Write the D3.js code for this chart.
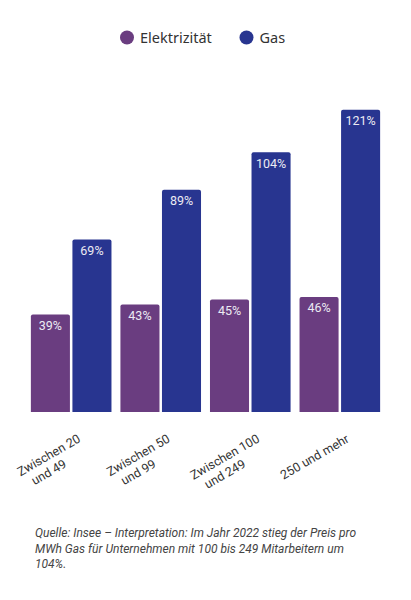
<!DOCTYPE html>
<html>
<head>
<meta charset="utf-8">
<script src="https://cdn.jsdelivr.net/npm/d3@7"></script>
<style>
  body { margin: 0; background: #fff; }
  svg { display: block; }
</style>
</head>
<body>
<script>
var categories = [["Zwischen 20", "und 49"], ["Zwischen 50", "und 99"], ["Zwischen 100", "und 249"], ["250 und mehr"]];
var seriesNames = ["Elektrizität", "Gas"];
var elecValues = [39, 43, 45, 46];
var gasValues = [69, 89, 104, 121];
var noteLines = [
    "Quelle: Insee – Interpretation: Im Jahr 2022 stieg der Preis pro",
    "MWh Gas für Unternehmen mit 100 bis 249 Mitarbeitern um",
    "104%."
];

var width = 411;
var height = 600;
var colors = ["#6a3d80", "#283590"];
var baseY = 412;

var svg = d3.select("body").append("svg")
    .attr("width", width)
    .attr("height", height);

var x0 = d3.scaleBand()
    .domain(d3.range(categories.length))
    .range([25.5, 385.5])
    .paddingInner(0.1)
    .paddingOuter(0.06);

var x1 = d3.scaleBand()
    .domain([0, 1])
    .range([0, x0.bandwidth()])
    .paddingInner(0.06);

var y = d3.scaleLinear()
    .domain([0, 121])
    .range([baseY, 109.7]);

// legend
var legend = svg.append("g").attr("class", "legend");
var legendPos = [127, 246.5];
seriesNames.forEach(function(name, i) {
    var g = legend.append("g").attr("transform", "translate(" + legendPos[i] + ",37.5)");
    g.append("circle").attr("r", 7).attr("fill", colors[i]);
    g.append("text")
        .attr("x", 13)
        .attr("dy", "0.35em")
        .attr("font-family", "Noto Sans")
        .attr("font-size", 14.5)
        .attr("fill", "#333")
        .text(name);
});

var rows = categories.map(function(c, i) {
    return [elecValues[i], gasValues[i]];
});

var groups = svg.selectAll("g.group")
    .data(rows)
    .enter()
    .append("g")
    .attr("class", "group")
    .attr("transform", function(d, i) { return "translate(" + x0(i) + ",0)"; });

var bars = groups.selectAll("g.bar")
    .data(function(d) { return d.map(function(v, j) { return {v: v, s: j}; }); })
    .enter()
    .append("g")
    .attr("class", "bar");

bars.append("path")
    .attr("fill", function(d) { return colors[d.s]; })
    .attr("d", function(d) {
        var bx = x1(d.s), bw = x1.bandwidth(), top = y(d.v), r = 2;
        return "M" + bx + "," + baseY +
            "V" + (top + r) +
            "Q" + bx + "," + top + " " + (bx + r) + "," + top +
            "H" + (bx + bw - r) +
            "Q" + (bx + bw) + "," + top + " " + (bx + bw) + "," + (top + r) +
            "V" + baseY + "Z";
    });

bars.append("text")
    .attr("x", function(d) { return x1(d.s) + x1.bandwidth() / 2; })
    .attr("y", function(d) { return y(d.v) + 11; })
    .attr("dy", "0.35em")
    .attr("text-anchor", "middle")
    .attr("font-family", "Roboto")
    .attr("font-size", 12.5)
    .attr("fill", "#ecebf3")
    .text(function(d) { return d.v + "%"; });

// x labels: first line end-anchored, further lines stacked straight down
var angle = -30;
var labels = svg.append("g").attr("class", "x-labels");
categories.forEach(function(lines, i) {
    var cx = x0(i) + x0.bandwidth() / 2;
    var ex = cx + 8, ey = 437.5;
    var first = labels.append("text")
        .attr("text-anchor", "end")
        .attr("dy", "0.35em")
        .attr("font-family", "Roboto")
        .attr("font-size", 12.5)
        .attr("fill", "#333")
        .attr("transform", "translate(" + ex + "," + ey + ") rotate(" + angle + ")")
        .text(lines[0]);
    var w = first.node().getComputedTextLength();
    var a = angle * Math.PI / 180;
    var mx = ex - Math.cos(a) * w / 2;
    var my = ey - Math.sin(a) * w / 2;
    lines.slice(1).forEach(function(line, k) {
        labels.append("text")
            .attr("text-anchor", "middle")
            .attr("dy", "0.35em")
            .attr("font-family", "Roboto")
            .attr("font-size", 12.5)
            .attr("fill", "#333")
            .attr("transform", "translate(" + mx + "," + (my + 17 * (k + 1)) + ") rotate(" + angle + ")")
            .text(line);
    });
});

// note
var note = svg.append("g").attr("class", "note");
noteLines.forEach(function(line, i) {
    note.append("text")
        .attr("x", 35)
        .attr("y", 537 + i * 15.5)
        .attr("font-family", "Roboto")
        .attr("font-style", "italic")
        .attr("font-size", 12)
        .attr("fill", "#444")
        .text(line);
});
</script>
</body>
</html>
